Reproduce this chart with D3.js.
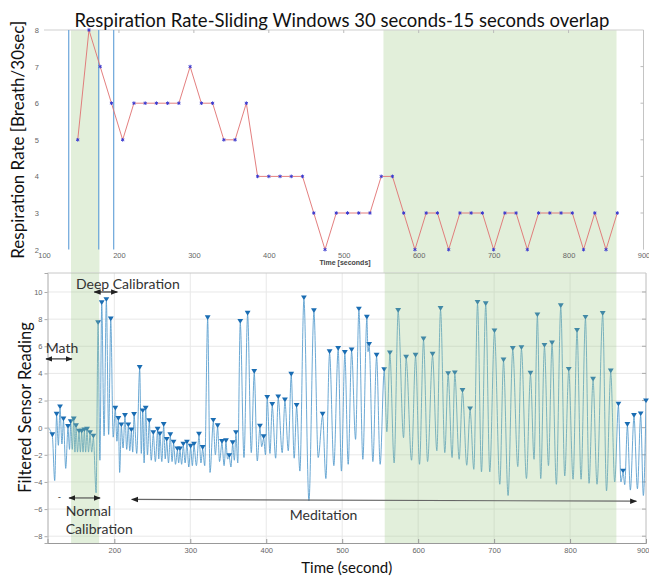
<!DOCTYPE html>
<html>
<head>
<meta charset="utf-8">
<script src="https://cdn.jsdelivr.net/npm/d3@7"></script>
<style>
body { margin: 0; background: #fff; }
svg { display: block; font-family: Lato, "Open Sans", sans-serif; }
.tick text { font-family: "Liberation Sans", Arial, sans-serif; fill: #666; }
</style>
</head>
<body>
<div class="chart_box"></div>
<script>
// respiration rate, one value per 30 s window (15 s step)
var rrTime = [145, 160, 175, 190, 205, 220, 235, 250, 265, 280, 295, 310, 325, 340, 355, 370, 385,
  400, 415, 430, 445, 460, 475, 490, 505, 520, 535, 550, 565, 580, 595, 610, 625, 640, 655,
  670, 685, 700, 715, 730, 745, 760, 775, 790, 805, 820, 835, 850, 865];
var rrRate = [5, 8, 7, 6, 5, 6, 6, 6, 6, 6, 7, 6, 6, 5, 5, 6, 4, 4, 4, 4, 4, 3, 2, 3, 3, 3, 3, 4, 4,
  3, 2, 3, 3, 2, 3, 3, 3, 2, 3, 3, 2, 3, 3, 3, 3, 2, 3, 2, 3];

// filtered sensor signal: detected peaks and the troughs between them
var peakTime = [118.4, 124, 128.5, 133, 139, 142.6, 146.6, 149.6, 153.5, 157, 160.5, 164, 168, 172.4,
  178.6, 183.4, 189.5, 195.3, 201.3, 205.3, 209.2, 214, 218.4, 222.4, 226, 233.4, 237.4, 241.3,
  246, 251.3, 257, 260, 265, 269, 273.7, 278, 283, 286.4, 290.8, 295.6, 300.5, 304.9, 311.5,
  316.3, 322.9, 330.3, 336, 341.7, 347, 351.3, 355.8, 360.1, 365.8, 375.5, 384.2, 391.7, 396.6,
  401.3, 407.9, 415.8, 424.6, 432.9, 440, 449.6, 462.8, 474.2, 483.4, 494.7, 503.5, 512.4, 522,
  532.5, 535.5, 545.3, 555.3, 562.8, 573.7, 584.2, 596.6, 607.1, 619, 629.5, 639.5, 648.3, 658.4,
  668.4, 678.2, 689, 700.5, 712.4, 724.6, 736, 747.9, 757, 766.3, 776.3, 787.8, 798.3, 809.2,
  820.3, 830.3, 843, 853.6, 863.7, 869.8, 875.5, 884.2, 893, 900];
var peakValue = [-0.66, 0.85, 1.4, 0.5, -0.05, 0.3, 0.5, 0, -0.4, -0.4, -0.3, -0.25, -0.5, -0.76,
  7.6, 9.07, 9.3, 7.87, 1.3, 0.54, 0.07, 0.76, 0.07, -0.3, 0.83, 4.3, 1.1, 1.3,
  0.37, -0.5, -0.25, -0.6, 0.1, -1.0, -0.66, -1.2, -1.7, -1.7, -1.35, -1.2, -1.5, -1.35, -0.62,
  -1.6, 7.96, 0.4, 0, -1.15, -1.1, -2.2, -1.25, -0.5, 7.7, 8.3, 4.0, -0.03, -0.8,
  2.1, 1.57, 2.13, 1.9, 3.8, 1.5, 9.43, 8.48, 0.85, 5.46, 5.7, 5.4, 5.6, 8.6,
  8.0, 6.0, 5.2, 4.14, 5.37, 8.5, 5.05, 5.2, 6.4, 5.27, 8.65, 3.85, 3.9, 2.6,
  1.25, 9.1, 9.0, 7.0, 4.85, 5.7, 5.76, 3.87, 8.18, 5.93, 6.1, 8.85, 4.16, 7.03,
  7.99, 3.43, 8.28, 4.04, 1.6, -3.34, 0.1, 0.76, 0.88, 1.84];
var troughTime = [113, 121.5, 126.3, 131, 136, 141, 144.6, 148.1, 151.5, 155.3, 158.8, 162.2, 166, 170.2,
  176, 181, 186.5, 192.5, 198.5, 203.4, 207, 211.5, 216.3, 220.3, 224.2, 229.5, 235.5, 239.2,
  243.6, 248.6, 254, 258.5, 262.5, 267, 271.3, 276, 280.5, 284.7, 288.6, 293.2, 298, 302.7, 308,
  314, 319, 326, 333, 338.5, 344.5, 349, 353.5, 358, 362.5, 370.7, 380.3, 388.2, 394,
  399, 404.9, 412.4, 421, 429, 436.8, 444.3, 456.2, 468.4, 478.5, 489, 499, 507.9, 517.6,
  527.2, 534, 540.4, 550, 558.8, 568.4, 580.8, 591.3, 601.8, 612.4, 624.6, 635.1, 644.7, 654,
  664, 673.3, 683.4, 694.3, 707.5, 718.4, 731.2, 742.6, 752.6, 761.4, 771.6, 782, 793, 804,
  814.5, 825, 835.5, 848, 858.8, 867, 872, 879.4, 888.7, 896.5];
var troughValue = [0, -3.9, -1.3, -1.2, -3.0, -1.6, -1.6, -1.8, -1.8, -1.8, -1.8, -1.8, -1.8, -1.8,
  -4.8, -2.4, -0.6, -0.5, -0.7, -1.0, -3.3, -1.5, -1.6, -1.7, -1.8, -1.9, -1.9, -2.6,
  -2.0, -2.4, -2.5, -2.3, -2.5, -2.3, -2.6, -2.5, -2.7, -2.6, -2.7, -2.6, -2.9, -2.8, -2.8,
  -2.6, -2.8, -3.3, -2.0, -2.5, -2.8, -2.3, -2.9, -2.4, -2.6, -2.2, -1.84, -2.45, -1.4,
  -2.0, -1.9, -2.25, -1.84, -1.7, -2.25, -3.2, -5.4, -2.2, -3.75, -2.8, -3.2, -2.7, -0.86,
  -2.33, 5.6, -2.5, -2.7, -0.3, -2.6, -0.74, -2.4, -2.7, -2.5, -1.7, -1.84, -2.2, -2.33,
  -2.77, -3.07, -3.26, -3.26, -4.17, -5.0, -2.87, -3.75, -2.33, -3.75, -2.8, -4.17, -3.56, -3.8,
  -3.8, -4.1, -4.17, -4.66, -4.0, -4.0, -4.2, -4.6, -4.5, -5.0];

var topXTicks = [100, 200, 300, 400, 500, 600, 700, 800, 900];
var topYTicks = [2, 3, 4, 5, 6, 7, 8];
var botXTicks = [200, 300, 400, 500, 600, 700, 800, 900];
var botYTicks = [-8, -6, -4, -2, 0, 2, 4, 6, 8, 10];

var topBands = [[136, 174], [553, 864]];
var topMarkLines = [133, 173, 193];
var botBands = [[143, 180], [556, 861]];

var width = 649, height = 576;

var svg = d3.select('.chart_box')
  .append("svg")
  .attr("width", width)
  .attr("height", height);

var topX = d3.scaleLinear().domain([100, 900]).range([44, 643.5]);
var topY = d3.scaleLinear().domain([2, 8]).range([249.6, 30]);

var botX = d3.scaleLinear().domain([112, 900]).range([47.5, 646]);
var botY = d3.scaleLinear().domain([-8.5, 11.4]).range([543, 273]);

// ---------- top chart ----------
var gTop = svg.append("g").attr("class", "top_chart");

// green windows, carried down to the second plot
gTop.selectAll("rect.band")
  .data(topBands)
  .enter().append("rect")
  .attr("class", "band")
  .attr("x", function(d) { return topX(d[0]); })
  .attr("width", function(d) { return topX(d[1]) - topX(d[0]); })
  .attr("y", topY(8))
  .attr("height", botY.range()[1] - topY(8))
  .attr("fill", "#e2efda");

// frame
gTop.append("line")
  .attr("x1", topX(100)).attr("x2", topX(900))
  .attr("y1", topY(8)).attr("y2", topY(8))
  .style("stroke", "#cfcfcf");
gTop.append("line")
  .attr("x1", topX(900)).attr("x2", topX(900))
  .attr("y1", topY(8)).attr("y2", topY(2))
  .style("stroke", "#c4c4c4");

gTop.selectAll("line.ttick")
  .data(topXTicks.slice(1, -1))
  .enter().append("line")
  .attr("class", "ttick")
  .attr("x1", function(d) { return topX(d); })
  .attr("x2", function(d) { return topX(d); })
  .attr("y1", topY(8)).attr("y2", topY(8) + 3)
  .style("stroke", "#bbb");
gTop.selectAll("line.rtick")
  .data(topYTicks.slice(1, -1))
  .enter().append("line")
  .attr("class", "rtick")
  .attr("x1", topX(900)).attr("x2", topX(900) - 3)
  .attr("y1", function(d) { return topY(d); })
  .attr("y2", function(d) { return topY(d); })
  .style("stroke", "#bbb");

gTop.append("g")
  .attr("transform", "translate(0," + topY(2) + ")")
  .call(d3.axisBottom(topX).tickValues(topXTicks).tickFormat(d3.format("d")).tickSize(0).tickPadding(3))
  .call(function(g) { g.select(".domain").remove(); })
  .selectAll("text").attr("font-size", "7.5px");

gTop.append("g")
  .attr("transform", "translate(" + topX(100) + ",0)")
  .call(d3.axisLeft(topY).tickValues(topYTicks).tickFormat(d3.format("d")).tickSize(0).tickPadding(5))
  .call(function(g) { g.select(".domain").remove(); })
  .selectAll("text").attr("font-size", "7.5px");

// vertical marker lines
gTop.selectAll("line.mark")
  .data(topMarkLines)
  .enter().append("line")
  .attr("class", "mark")
  .attr("x1", function(d) { return topX(d); })
  .attr("x2", function(d) { return topX(d); })
  .attr("y1", topY(8)).attr("y2", topY(2))
  .style("stroke", "#6aa5da")
  .style("stroke-width", 1.2);

var rrLine = d3.line()
  .x(function(d, i) { return topX(rrTime[i]); })
  .y(function(d) { return topY(d); });

gTop.append("path")
  .datum(rrRate)
  .attr("d", rrLine)
  .attr("fill", "none")
  .style("stroke", "#e07070")
  .style("stroke-width", 0.9);

gTop.selectAll("path.star")
  .data(rrRate)
  .enter().append("path")
  .attr("class", "star")
  .attr("d", d3.symbol(d3.symbolAsterisk, 9))
  .attr("transform", function(d, i) { return "translate(" + topX(rrTime[i]) + "," + topY(d) + ")"; })
  .attr("fill", "none")
  .style("stroke", "#3a3ad0")
  .style("stroke-width", 1);

svg.append("text")
  .attr("x", 342)
  .attr("y", 27)
  .attr("text-anchor", "middle")
  .attr("font-size", "18.5px")
  .attr("fill", "#111")
  .text("Respiration Rate-Sliding Windows 30 seconds-15 seconds overlap");

svg.append("text")
  .attr("transform", "translate(24," + (topY.range()[0] + topY.range()[1]) / 2 + ") rotate(-90)")
  .attr("text-anchor", "middle")
  .attr("font-size", "17px")
  .attr("fill", "#111")
  .text("Respiration Rate  [Breath/30sec]");

svg.append("text")
  .attr("x", 345)
  .attr("y", 265)
  .attr("text-anchor", "middle")
  .attr("font-family", "Liberation Sans, Arial, sans-serif")
  .attr("font-weight", "bold")
  .attr("font-size", "7px")
  .attr("fill", "#444")
  .text("Time [seconds]");

// ---------- bottom chart ----------
var gBot = svg.append("g").attr("class", "bottom_chart");

svg.append("clipPath").attr("id", "botclip")
  .append("rect")
  .attr("x", botX.range()[0]).attr("y", botY.range()[1])
  .attr("width", botX.range()[1] - botX.range()[0])
  .attr("height", botY.range()[0] - botY.range()[1]);

// grid
gBot.selectAll("line.gx")
  .data(botXTicks)
  .enter().append("line")
  .attr("class", "gx")
  .attr("x1", function(d) { return botX(d); })
  .attr("x2", function(d) { return botX(d); })
  .attr("y1", botY.range()[0]).attr("y2", botY.range()[1])
  .style("stroke", "#e8e8e8");
gBot.selectAll("line.gy")
  .data(botYTicks)
  .enter().append("line")
  .attr("class", "gy")
  .attr("x1", botX.range()[0]).attr("x2", botX.range()[1])
  .attr("y1", function(d) { return botY(d); })
  .attr("y2", function(d) { return botY(d); })
  .style("stroke", "#e8e8e8");

// frame top/right
gBot.append("line")
  .attr("x1", botX.range()[0]).attr("x2", botX.range()[1])
  .attr("y1", botY.range()[1]).attr("y2", botY.range()[1])
  .style("stroke", "#c8c8c8");
gBot.append("line")
  .attr("x1", botX.range()[1]).attr("x2", botX.range()[1])
  .attr("y1", botY.range()[1]).attr("y2", botY.range()[0])
  .style("stroke", "#c8c8c8");
gBot.selectAll("line.rtick")
  .data(botYTicks)
  .enter().append("line")
  .attr("class", "rtick")
  .attr("x1", botX.range()[1]).attr("x2", botX.range()[1] - 4)
  .attr("y1", function(d) { return botY(d); })
  .attr("y2", function(d) { return botY(d); })
  .style("stroke", "#aaa");

var signal = peakTime.map(function(t, i) { return [t, peakValue[i]]; })
  .concat(troughTime.map(function(t, i) { return [t, troughValue[i]]; }))
  .sort(function(a, b) { return a[0] - b[0]; });

var sigLine = d3.line()
  .curve(d3.curveMonotoneX)
  .x(function(d) { return botX(d[0]); })
  .y(function(d) { return botY(d[1]); });

gBot.append("path")
  .datum(signal)
  .attr("clip-path", "url(#botclip)")
  .attr("d", sigLine)
  .attr("fill", "none")
  .style("stroke", "#5b9fcf")
  .style("stroke-width", 0.9);

gBot.selectAll("path.peak")
  .data(peakValue)
  .enter().append("path")
  .attr("class", "peak")
  .attr("d", "M-2.9,-4.3L2.9,-4.3L0,0.6Z")
  .attr("transform", function(d, i) { return "translate(" + botX(peakTime[i]) + "," + botY(d) + ")"; })
  .attr("fill", "#1a6db3");

// green windows as translucent overlay
gBot.selectAll("rect.band")
  .data(botBands)
  .enter().append("rect")
  .attr("class", "band")
  .attr("x", function(d) { return botX(d[0]); })
  .attr("width", function(d) { return botX(d[1]) - botX(d[0]); })
  .attr("y", botY.range()[1])
  .attr("height", botY.range()[0] - botY.range()[1])
  .attr("fill", "#9eca87")
  .style("fill-opacity", 0.3);

var botXAxis = gBot.append("g")
  .attr("transform", "translate(0," + botY.range()[0] + ")")
  .call(d3.axisBottom(botX).tickValues(botXTicks).tickSize(-4).tickPadding(5))
  .call(function(g) {
    g.select(".domain").style("stroke", "#999");
    g.selectAll(".tick line").style("stroke", "#999");
  });
botXAxis.selectAll("text").attr("font-size", "7.5px");
// last label sits on the right edge of the page
botXAxis.selectAll(".tick text")
  .filter(function(d) { return d === 900; })
  .attr("text-anchor", "end")
  .attr("dx", "3");

gBot.append("g")
  .attr("transform", "translate(" + botX.range()[0] + ",0)")
  .call(d3.axisLeft(botY).tickValues(botYTicks).tickSize(3).tickPadding(2))
  .call(function(g) {
    g.select(".domain").style("stroke", "#aaa");
    g.selectAll(".tick line").style("stroke", "#aaa");
  })
  .selectAll("text").attr("font-size", "7.5px");

svg.append("text")
  .attr("x", (botX.range()[0] + botX.range()[1]) / 2)
  .attr("y", 573)
  .attr("text-anchor", "middle")
  .attr("font-size", "15px")
  .attr("fill", "#111")
  .text("Time (second)");

svg.append("text")
  .attr("transform", "translate(31,407.5) rotate(-90)")
  .attr("text-anchor", "middle")
  .attr("font-size", "16.5px")
  .attr("fill", "#111")
  .text("Filtered Sensor Reading");

// ---------- annotations (bottom chart coordinates) ----------
var defs = svg.append("defs");
defs.append("marker")
  .attr("id", "ah")
  .attr("viewBox", "0 -5 10 10")
  .attr("refX", 9).attr("refY", 0)
  .attr("markerWidth", 7).attr("markerHeight", 7)
  .attr("markerUnits", "userSpaceOnUse")
  .attr("orient", "auto-start-reverse")
  .append("path")
  .attr("d", "M0,-4L10,0L0,4Z")
  .attr("fill", "#222");

function arrow(t1, t2, v1, v2, color) {
  svg.append("line")
    .attr("x1", botX(t1)).attr("y1", botY(v1))
    .attr("x2", botX(t2)).attr("y2", botY(v2))
    .style("stroke", color)
    .style("stroke-width", 1.2)
    .attr("marker-start", "url(#ah)")
    .attr("marker-end", "url(#ah)");
}

function note(t, v, txt, size) {
  svg.append("text")
    .attr("x", botX(t))
    .attr("y", botY(v))
    .attr("font-size", size)
    .attr("fill", "#333")
    .text(txt);
}

note(149.5, 10.2, "Deep Calibration", "14px");
arrow(173.7, 204, 10.0, 10.0, "#333");

note(109.7, 5.5, "Math", "14px");
arrow(110, 144.3, 5.07, 5.07, "#333");

note(136, -6.5, "Normal", "14px");
note(136, -7.85, "Calibration", "14px");
arrow(140.4, 181.2, -5.18, -5.18, "#555");
note(125.5, -5.3, "-", "9px");

note(431, -6.82, "Meditation", "14px");
arrow(222.9, 887.4, -5.29, -5.42, "#666");
</script>
</body>
</html>
